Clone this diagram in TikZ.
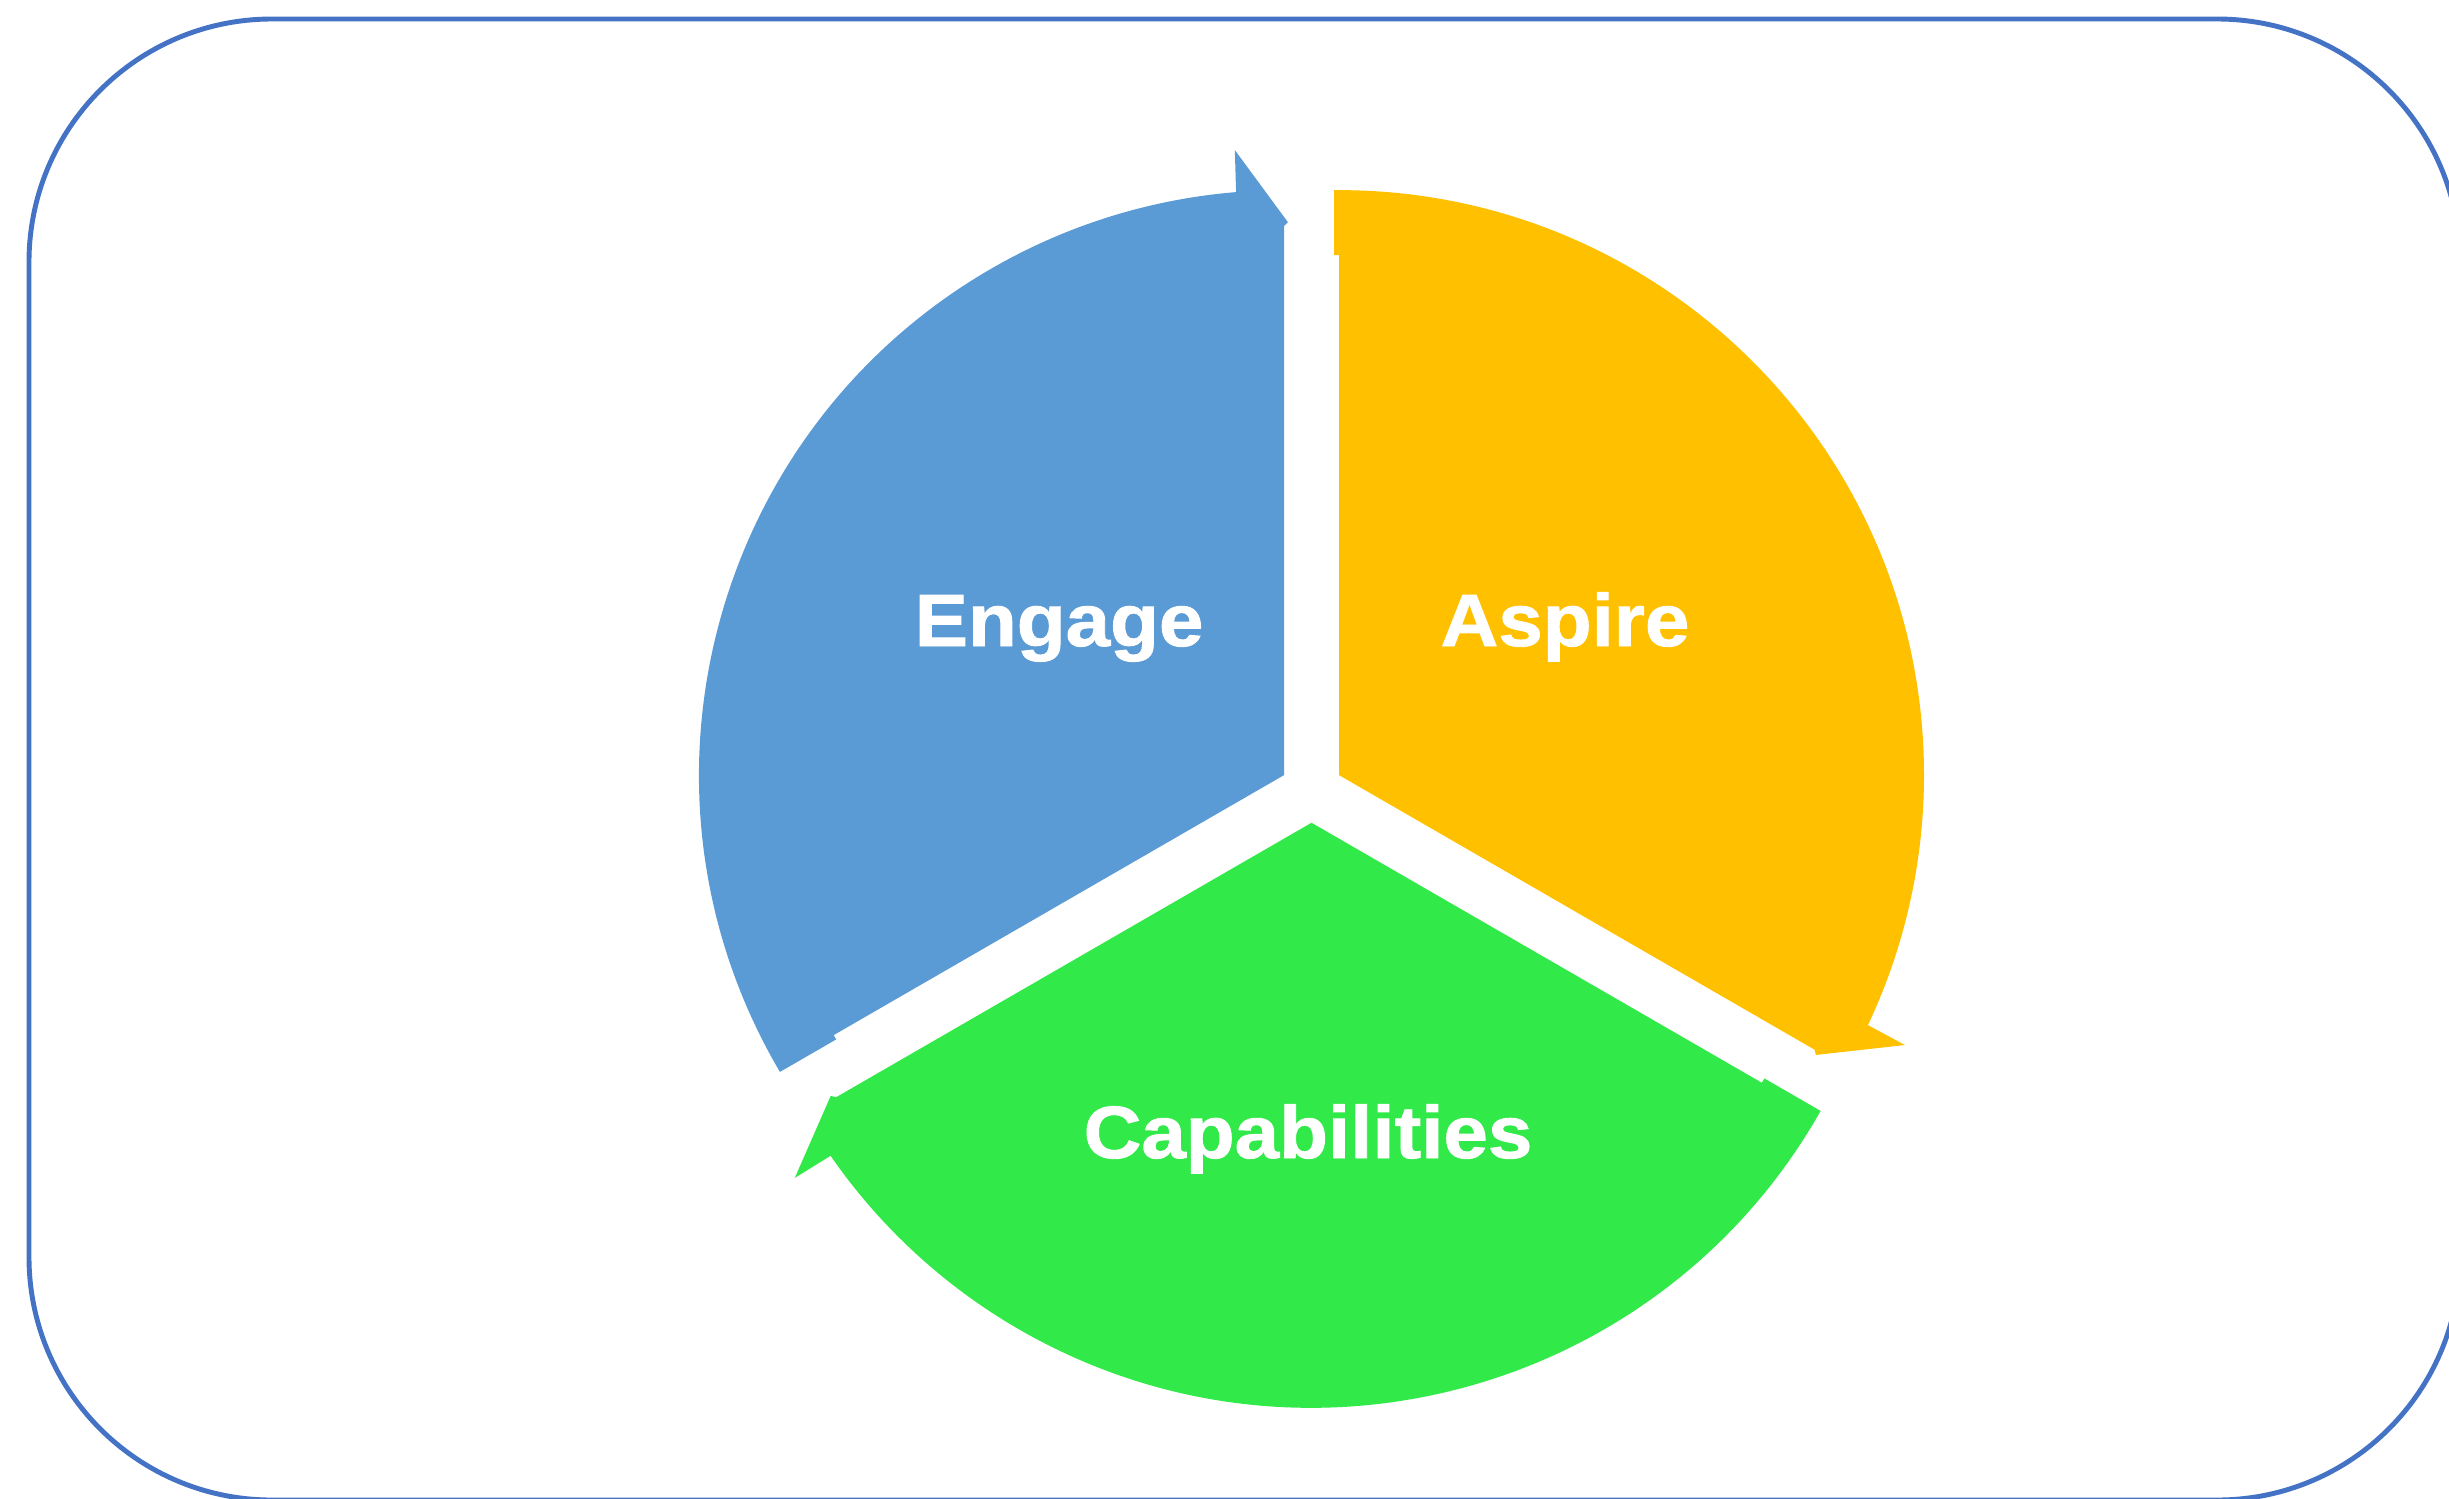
\documentclass[tikz,border=0pt]{standalone}
\usepackage{fontspec}
\usetikzlibrary{calc}
\newfontfamily\lblfont{Liberation Sans}[FakeStretch=1.08, FakeBold=1.2]
\definecolor{segblue}{HTML}{5B9BD5}
\definecolor{segyellow}{HTML}{FFC000}
\definecolor{seggreen}{RGB}{50,233,74}
\definecolor{frameblue}{HTML}{4472C4}
\newcommand{\arrowseg}[3]{%
  \pgfmathsetmacro{\segHeadAng}{#2-120}%
  \fill[#3] (#1) -- ($(#1)+(#2:5.2)$) -- ($(#1)+(#2:5.2)+(#2+90:0.05)$)
    -- ($(#1)+(#2+0.49:5.85)$)
    arc[start angle=#2+0.49, end angle=\segHeadAng+4.7, radius=5.85]
    -- ($(#1)+(\segHeadAng+4.5:6.27)$)
    -- ($(#1)+(\segHeadAng-0.4:5.53)$)
    -- ($(#1)+(\segHeadAng:5.49)$) -- cycle;}
\tikzset{lbl/.style={text=white, anchor=base, inner sep=0pt,
  font=\lblfont\bfseries\fontsize{21.06}{25}\selectfont}}
\begin{document}
\begin{tikzpicture}
\useasboundingbox (0,0) rectangle (24.49,-14.98);
\clip (0,0) rectangle (24.49,-14.98);
\draw[frameblue, line width=1.4pt, rounded corners=2.43cm] (0.29,-0.19) rectangle (24.60,-15.0);
\coordinate (cb) at (12.84,-7.751);
\coordinate (cy) at (13.39,-7.751);
\coordinate (cg) at (13.115,-8.2275);
\arrowseg{cb}{210}{segblue}
\arrowseg{cy}{90}{segyellow}
\arrowseg{cg}{-30}{seggreen}
\node[lbl] (engage) at (10.59,-6.46) {Engage};
\node[lbl] (aspire) at (15.65,-6.46) {Aspire};
\node[lbl] (capab) at (13.08,-11.58) {Capabilities};
\end{tikzpicture}
\end{document}
